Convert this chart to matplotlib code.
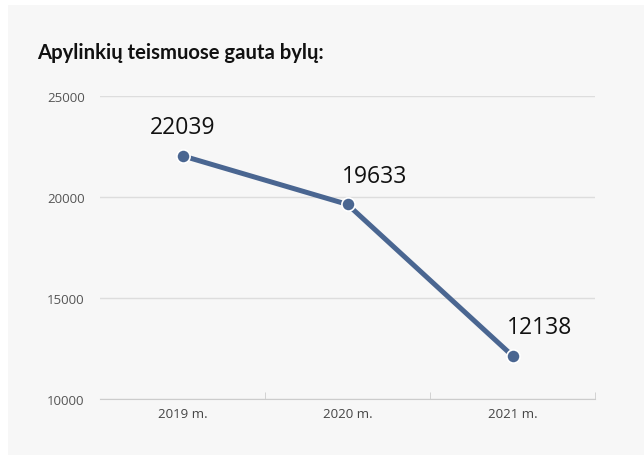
import matplotlib.pyplot as plt
from matplotlib.patches import Rectangle

years = ['2019 m.', '2020 m.', '2021 m.']
cases = [22039, 19633, 12138]
yticks = [10000, 15000, 20000, 25000]
label_align = ['center', 'left', 'left']

line_color = '#4a6691'
bg = '#f7f7f7'

fig = plt.figure(figsize=(6.44, 4.56), dpi=100)
fig.patches.append(Rectangle((8 / 644, 0), 1, 1 - 6 / 456, transform=fig.transFigure,
                             facecolor=bg, edgecolor='none', zorder=-1))
ax = fig.add_axes([100 / 644, 1 - 400 / 456, 495 / 644, 303 / 456])
ax.set_facecolor(bg)

x = range(len(years))
ax.plot(x, cases, color=line_color, lw=3.6, marker='o', ms=9.5,
        markeredgecolor='white', markeredgewidth=1.2, solid_capstyle='round', zorder=3)
for xi, v, al in zip(x, cases, label_align):
    dx = 0 if al == 'center' else -4
    ax.annotate(str(v), (xi, v), xytext=(dx, 12), textcoords='offset points',
                ha=al, va='bottom', fontsize=16.5, family='Open Sans', color='#111111')

ax.set_xlim(-0.5, len(years) - 0.5)
ax.set_ylim(10000, 25000)
ax.set_yticks(yticks)
ax.set_yticklabels([str(t) for t in yticks], family='Open Sans', fontsize=9.5, color='#555555')
ax.set_xticks(list(x))
ax.set_xticklabels(years, family='Open Sans', fontsize=9.5, color='#444444')
ax.tick_params(axis='x', length=0, pad=6)
ax.tick_params(axis='y', length=0, pad=11)
ax.set_xticks([0.5, 1.5, 2.5], minor=True)
ax.tick_params(axis='x', which='minor', length=5, direction='in', color='#cccccc')
ax.grid(axis='y', color='#dddddd', lw=1)
ax.set_axisbelow(True)
for s in ['top', 'right', 'left']:
    ax.spines[s].set_visible(False)
ax.spines['bottom'].set_color('#cccccc')

fig.text(37 / 644, 1 - 53 / 456, 'Apylinkių teismuose gauta bylų:', family='Lato',
         fontweight='bold', fontsize=14.6, va='center', ha='left', color='#111111')

fig.savefig('out.png', dpi=100, facecolor='white')
